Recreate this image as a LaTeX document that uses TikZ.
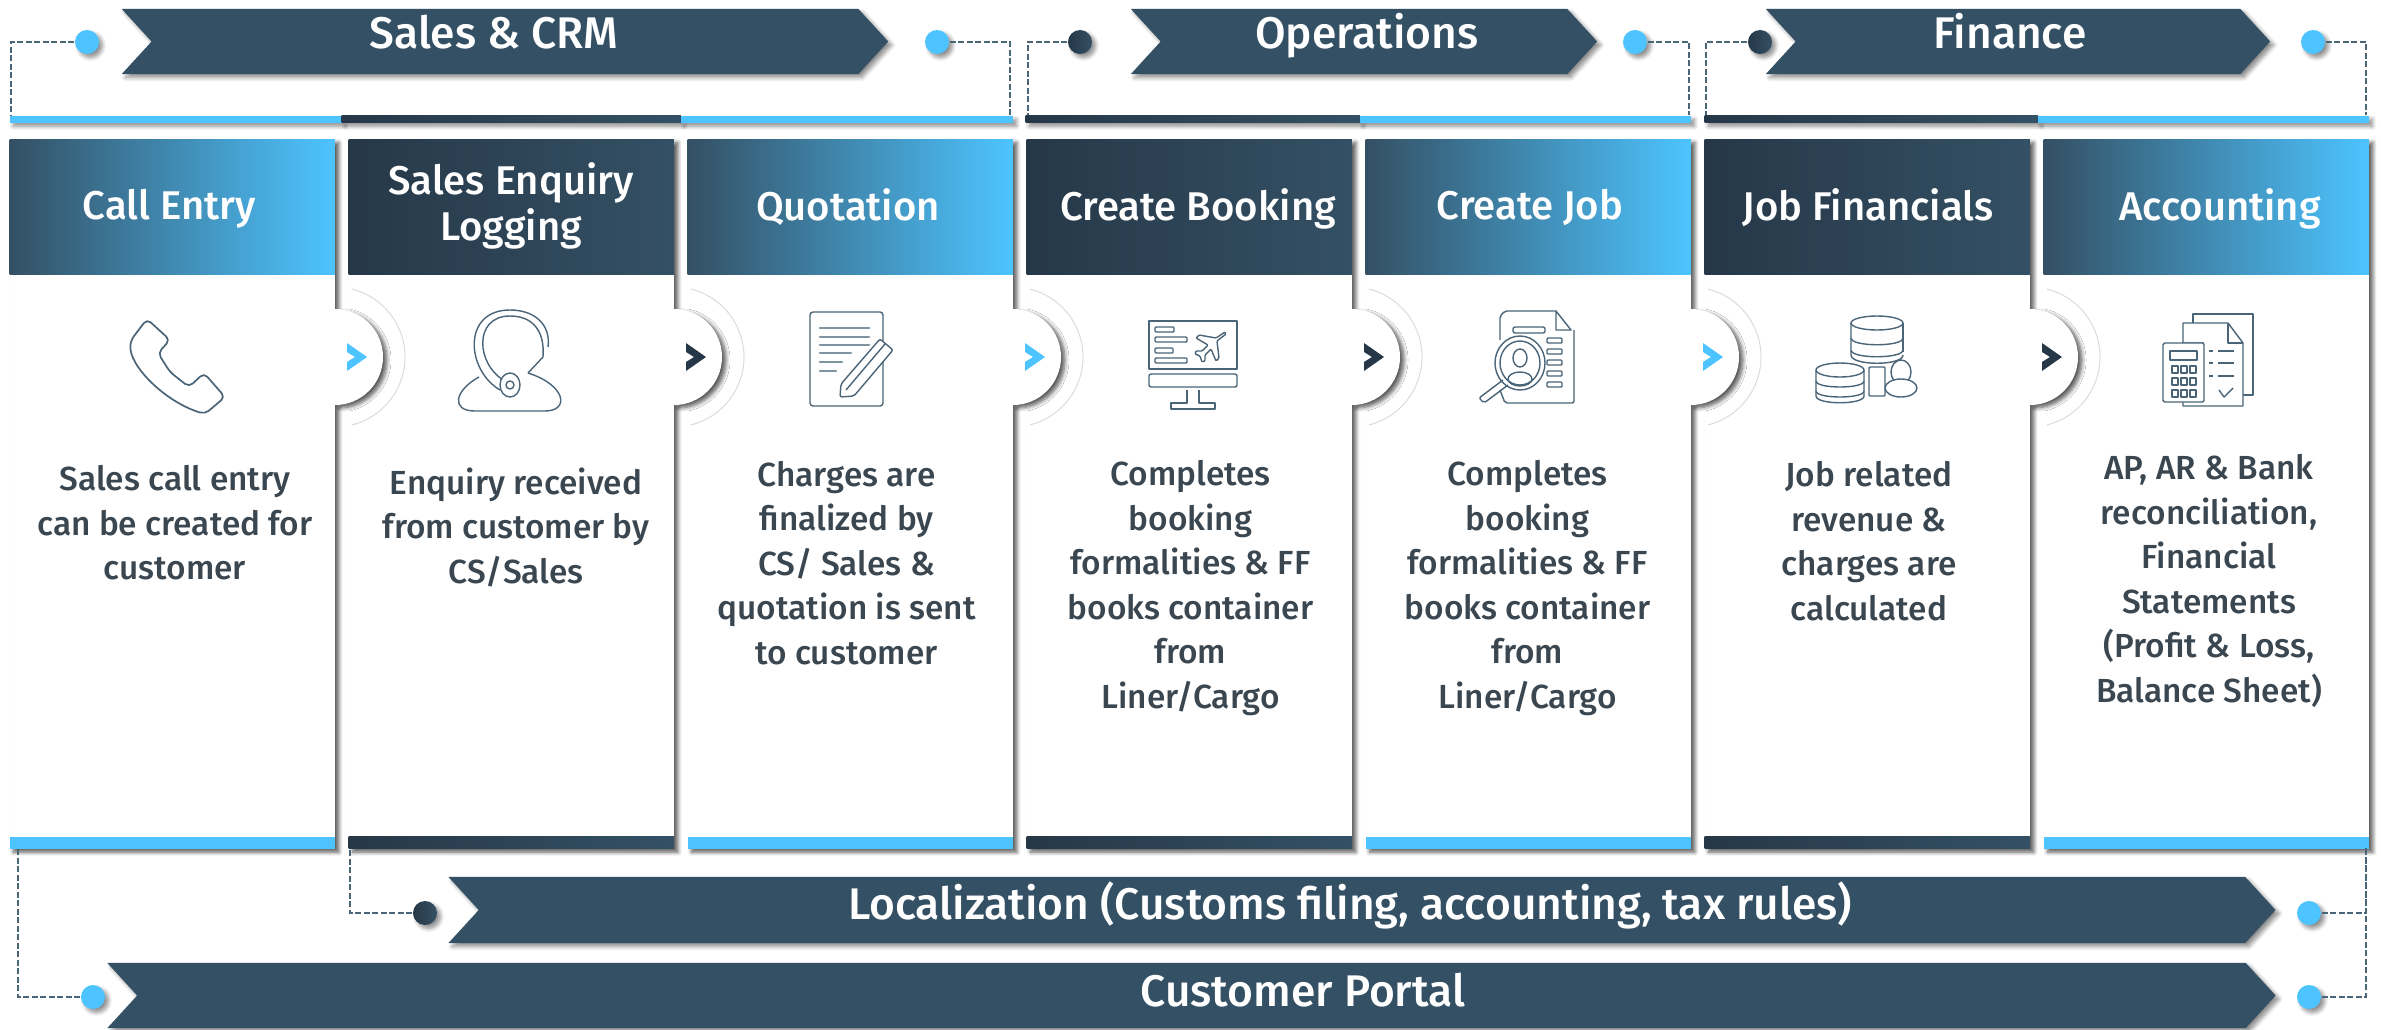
\documentclass[tikz,border=0pt]{standalone}
\usepackage{fontspec}
\setmainfont{Fira Sans}[UprightFont={* Medium}]
\usetikzlibrary{shapes.symbols,shadows.blur}
\definecolor{skyblue}{HTML}{4DC4FF}
\definecolor{slate}{HTML}{345064}
\definecolor{ink}{HTML}{263848}
\definecolor{bodytext}{HTML}{3A4650}
\definecolor{iconline}{HTML}{4A6478}
\tikzset{
  softshadow/.style={blur shadow={shadow xshift=.35mm,shadow yshift=-.35mm,shadow blur radius=.4mm,shadow blur steps=6,shadow opacity=45}},
  strongshadow/.style={blur shadow={shadow xshift=.4mm,shadow yshift=-.3mm,shadow blur radius=.4mm,shadow blur steps=6,shadow opacity=65}},
  panel/.style={rectangle,fill=white,inner sep=0,minimum width=3.25cm,minimum height=7.09cm,anchor=north west,strongshadow},
  hdrblue/.style={rectangle,left color=slate,right color=skyblue},
  hdrdark/.style={rectangle,left color=ink,right color=slate},
  header/.style={inner sep=0,minimum width=3.25cm,minimum height=1.35cm,anchor=north west},
  steptitle/.style={text=white,align=center,inner sep=0,font=\fontsize{11.4pt}{13.1pt}\selectfont},
  barblue/.style={rectangle,fill=skyblue},
  bardark/.style={rectangle,left color=ink,right color=slate},
  footbar/.style={inner sep=0,minimum width=3.25cm,minimum height=1.2mm,anchor=north west},
  topbar/.style={inner sep=0,minimum height=.7mm,anchor=north west,softshadow},
  ribbon/.style={signal,signal from=west,signal to=east,signal pointer angle=95,fill=slate,inner sep=0,softshadow},
  ribbonlabel/.style={anchor=base,text=white,inner sep=0,font=\fontsize{12.6pt}{14pt}\selectfont},
  stepbody/.style={anchor=center,align=center,text=bodytext,inner sep=0,font=\fontsize{9.5pt}{12.66pt}\selectfont},
  dotblue/.style={circle,fill=skyblue,inner sep=0,minimum size=2.4mm,softshadow},
  dotdark/.style={circle,left color=ink,right color=slate,inner sep=0,minimum size=2.4mm,softshadow},
  dashline/.style={draw=iconline,line width=.17mm,dash pattern=on .6mm off .25mm},
  icon/.style={draw=iconline,line width=.14mm,line join=round},
}
\begin{document}
\begin{tikzpicture}[x=.01cm,y=-.01cm]
\useasboundingbox (0,0) rectangle (2381,1030);
% ribbons along the top and the bottom
\foreach \n/\x/\y/\w/\h in {Sales/505/41.5/7.66/.65,Ops/1364/41.5/4.66/.65,Fin/2018/41.5/5.04/.65,Local/1362/910/18.26/.66,Portal/1191.5/995.5/21.67/.65}
  \node[ribbon,minimum width=\w cm,minimum height=\h cm] (rib\n) at (\x,\y) {};
\node[ribbonlabel] (txtSales) at (494,48) {Sales \& CRM};
\node[ribbonlabel] (txtOps) at (1367,48) {Operations};
\node[ribbonlabel] (txtFin) at (2010,48) {Finance};
\node[ribbonlabel] (txtLocal) at (1350,919) {Localization (Customs filing, accounting, tax rules)};
\node[ribbonlabel] (txtPortal) at (1303,1006) {Customer Portal};
% top bars
\foreach \n/\x/\w/\kind in {a/9/3.32/blue,b/341/3.39/dark,c/680/3.32/blue,d/1025/3.34/dark,e/1359/3.31/blue,f/1704/3.33/dark,g/2037/3.31/blue}
  \node[topbar,bar\kind,minimum width=\w cm] (top\n) at (\x,115) {};
% columns
\foreach \n/\x/\kind/\tx/\ty/\title/\bx/\by/\body in {
  1/9/blue/169/209/{Call Entry}/175/523/{Sales call entry\\can be created for\\customer},
  2/348/dark/511/206/{Sales Enquiry\\Logging}/516/527/{Enquiry received\\from customer by\\CS/Sales},
  3/687/blue/848/209/{Quotation}/846.5/563/{Charges are\\finalized by\\CS/ Sales \&\\quotation is sent\\to customer},
  4/1026/dark/1198/209/{Create Booking}/1190.5/588/{Completes\\booking\\formalities \& FF\\books container\\from\\Liner/Cargo},
  5/1365/blue/1530/209/{Create Job}/1527.5/588/{Completes\\booking\\formalities \& FF\\books container\\from\\Liner/Cargo},
  6/1704/dark/1868/209/{Job Financials}/1869/541/{Job related\\revenue \&\\charges are\\calculated},
  7/2043/blue/2220/209/{Accounting}/2209/581/{AP, AR \& Bank\\reconciliation,\\Financial\\Statements\\(Profit \& Loss,\\Balance Sheet)}}{
  \node[panel] (panel\n) at (\x,139) {};
  \node[header,hdr\kind] (head\n) at (\x,139) {};
  \node[footbar,bar\kind] (foot\n) at (\x,836) {};
  \node[steptitle] (title\n) at (\tx,\ty) {\vphantom{Jgl}\title};
  \node[stepbody] (text\n) at (\bx,\by) {\body};
}
% round tabs between the columns
\foreach \x/\kind in {335/skyblue,674/ink,1013/skyblue,1352/ink,1691/skyblue,2030/ink}{
  \draw[black,opacity=.14,line width=.1mm] (\x,357) ++(-76:70) arc (-76:76:70);
  \fill[white,strongshadow] (\x,309) arc (-90:90:48) -- cycle;
  \fill[\kind] (\x+12,343) -- (\x+32,357) -- (\x+12,371) -- (\x+12,362) -- (\x+20,357) -- (\x+12,352) -- cycle;
}
% dots and their dashed links
\foreach \n/\x/\y/\kind in {SalesL/87/42/blue,SalesR/937/42/blue,OpsL/1080/42/dark,OpsR/1635/42/blue,FinL/1760/42/dark,FinR/2313/42/blue,LocalL/425/913/dark,LocalR/2309/913/blue,PortalL/93/997/blue,PortalR/2309/997/blue}
  \node[dot\kind] (dot\n) at (\x,\y) {};
\foreach \n/\x/\y in {SalesL/11/115,SalesR/1010/115,OpsL/1028/115,OpsR/1689/115,FinL/1706/115,FinR/2366/115,LocalL/350/848,LocalR/2366/848,PortalL/18/848,PortalR/2366/848}
  \coordinate (end\n) at (\x,\y);
\foreach \n/\s in {SalesL/west,SalesR/east,OpsL/west,OpsR/east,FinL/west,FinR/east,LocalL/west,LocalR/east,PortalL/west,PortalR/east}
  \draw[dashline] (dot\n.\s) -| (end\n);
% phone
\draw[icon,rounded corners=.5mm,line width=.17mm] (147,319) -- (170,340) -- (158,353) -- (170,372) -- (189,387) -- (204,373) -- (225,397) -- (205,414) .. controls (165,402) and (128,365) .. (131,340) -- cycle;
% headset
\draw[icon] (500,390) .. controls (466,370) and (462,310) .. (510,310) .. controls (535,310) and (551,325) .. (548,347);
\draw[icon] (505,381) .. controls (476,365) and (473,316) .. (510,316) .. controls (532,316) and (545,330) .. (543,357) -- (528,373);
\draw[icon] (479,377) .. controls (455,390) and (450,411) .. (475,411) -- (545,411) .. controls (570,411) and (566,385) .. (528,373);
\draw[icon,fill=white] (510,385) ellipse (10 and 12);
\draw[icon] (510,385) circle (4);
% quotation sheet
\draw[icon,rounded corners=.3mm] (810,312) rectangle (883,406);
\foreach \y/\e in {328/869,337/869,345/869,353/851,362/842,371/836}
  \draw[iconline!70,line width=.28mm,line cap=round] (820,\y) -- (\e,\y);
\draw[icon,fill=white,rounded corners=.2mm] (841,384) -- (880,339) -- (893,350) -- (854,396) -- (840,397) -- cycle;
\draw[icon] (846,390) -- (885,344);
% booking screen
\draw[icon] (1149,321) rectangle (1237,369);
\draw[icon,rounded corners=.2mm] (1149,374) rectangle (1237,387);
\draw[icon] (1187,390) -- (1187,403) -- (1171,403) -- (1171,409) -- (1215,409) -- (1215,403) -- (1199,403) -- (1199,390);
\foreach \e/\y in {1174/327,1187/337,1173/348,1187/358}
  \draw[icon,rounded corners=.1mm] (1155,\y) rectangle (\e,\y+5);
\draw[icon,rounded corners=.1mm] (1225,332) -- (1216,338) -- (1199,335) -- (1196,338) -- (1208,345) -- (1202,351) -- (1196,351) -- (1195,354) -- (1200,356) -- (1202,362) -- (1205,361) -- (1205,355) -- (1211,349) -- (1216,361) -- (1219,358) -- (1217,341) -- (1226,334) -- cycle;
% job file
\draw[icon,rounded corners=.2mm] (1556,311) -- (1505,311) -- (1500,316) -- (1500,340);
\draw[icon,rounded corners=.2mm] (1500,390) -- (1505,403) -- (1574,403) -- (1574,330);
\draw[icon] (1556,311) -- (1556,330) -- (1571,330) -- cycle;
\draw[icon,rounded corners=.2mm] (1513,327) rectangle (1545,333);
\foreach \y in {340,351,362,373,384}
  \draw[icon,rounded corners=.1mm] (1547,\y-2) rectangle (1562,\y+3);
\draw[icon,fill=white] (1520,363) ellipse (25 and 27);
\draw[icon] (1520,363) ellipse (20 and 22);
\draw[icon] (1520,358) ellipse (7 and 9);
\draw[icon] (1520,379) ellipse (12 and 7);
\draw[icon,rounded corners=.2mm] (1503,380) -- (1479,398) -- (1484,403) -- (1508,385);
% database stacks
\draw[icon] (1877,323) ellipse (26 and 7);
\draw[icon] (1851,323) -- (1851,355) .. controls (1851,366) and (1903,366) .. (1903,355);
\draw[icon] (1903,323) -- (1903,352);
\foreach \y in {338,350}
  \draw[icon] (1851,\y) .. controls (1851,\y+9) and (1903,\y+9) .. (1903,\y);
\draw[icon,fill=white] (1840,370) ellipse (24 and 7);
\draw[icon] (1816,370) -- (1816,396) .. controls (1816,405) and (1864,405) .. (1864,396) -- (1864,370);
\foreach \y in {381,391}
  \draw[icon] (1816,\y) .. controls (1816,\y+8) and (1864,\y+8) .. (1864,\y);
\draw[icon,rounded corners=.1mm] (1869,367) rectangle (1885,396);
\draw[icon,fill=white] (1901,372) ellipse (10 and 12);
\draw[icon,fill=white] (1901,388) ellipse (16 and 9);
% accounting sheets
\draw[icon] (2193,323) -- (2193,314) -- (2253,314) -- (2253,395) -- (2243,395);
\draw[icon,fill=white] (2204,343) -- (2183,343) -- (2183,323) -- (2228,323) -- (2243,343) -- (2243,406) -- (2183,406) -- (2183,402);
\draw[icon] (2228,323) -- (2228,343) -- (2243,343);
\draw[icon,fill=white,rounded corners=.15mm] (2163,343) rectangle (2204,402);
\draw[icon] (2170,351) rectangle (2197,360);
\foreach \x in {2172,2181,2190}
  \foreach \y in {366,378,390}
    \draw[icon] (\x,\y) rectangle (\x+6,\y+7);
\foreach \y in {351,363,376}{
  \draw[icon] (2209,\y) -- (2213,\y);
  \draw[icon] (2218,\y) -- (2234,\y);
}
\draw[icon] (2219,390) -- (2224,397) -- (2233,388);
\end{tikzpicture}
\end{document}
